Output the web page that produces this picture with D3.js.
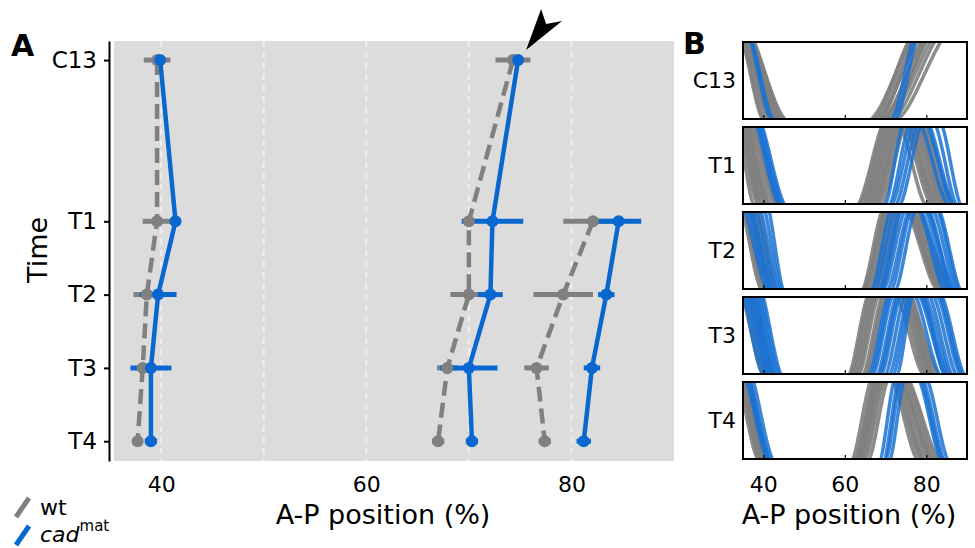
<!doctype html>
<html>
<head>
<meta charset="utf-8">
<style>
  body { margin: 0; background: #fff; }
  text { font-family: "DejaVu Sans", sans-serif; fill: #000; }
</style>
<script src="https://d3js.org/d3.v7.min.js"></script>
</head>
<body>
<svg width="975" height="548"></svg>
<script>
// ---- data ----
var times = ["C13", "T1", "T2", "T3", "T4"];
var timePos = [0, 2.2, 3.2, 4.2, 5.2];

// panel A: boundary positions (% A-P), mean and error
var wtAnt = [39.6, 39.6, 38.6, 38.2, 37.7];
var wtAntErr = [1.3, 1.4, 1.3, 0.6, 0.5];
var cadAnt = [39.9, 41.4, 39.7, 39.0, 39.0];
var cadAntErr = [0.3, 0.4, 1.8, 2.0, 0.6];

var wtMid = [74.3, 70.0, 70.0, 67.9, 67.0];
var wtMidErr = [1.7, 0.6, 1.8, 1.0, 0.6];
var cadMid = [74.8, 72.3, 72.1, 70.0, 70.3];
var cadMidErr = [0.3, 3.0, 1.2, 2.8, 0.6];

var wtPost = [null, 82.1, 79.2, 76.6, 77.4];
var wtPostErr = [null, 2.9, 2.9, 1.2, 0.6];
var cadPost = [null, 84.6, 83.4, 82.0, 81.2];
var cadPostErr = [null, 2.2, 0.8, 0.8, 0.7];

var gridTicks = [40, 50, 60, 70, 80];
var xTicks = [40, 60, 80];

// panel B: single profiles, read as crossing positions
// [left flank leaves top, left flank reaches 0, rises from 0, reaches top, falls from top, back at 0]
var wtProfiles = [
  [[35.2, 41.0, 66.0, 75.5], [35.8, 42.5, 67.5, 77.0], [36.2, 43.5, 65.0, 76.0], [36.8, 44.0, 68.5, 78.5],
   [37.0, 45.0, 69.0, 80.0], [37.5, 46.5, 70.5, 82.0], [35.5, 42.0, 67.0, 77.5], [36.0, 43.0, 71.5, 83.5],
   [37.3, 45.5, 68.0, 79.0], [36.5, 44.5, 66.5, 76.5], [35.0, 40.5, 69.5, 81.0], [37.8, 46.0, 70.0, 79.5]],
  [[34.0, 38.0, 62.5, 69.0, 74.0, 80.5], [34.5, 39.0, 63.5, 70.0, 75.0, 82.0], [35.0, 40.0, 64.0, 70.5, 76.0, 83.0],
   [35.5, 41.0, 65.0, 71.5, 77.0, 84.0], [36.0, 42.0, 65.5, 72.0, 78.0, 85.0], [36.5, 42.5, 66.5, 73.0, 79.0, 86.0],
   [37.0, 43.5, 67.0, 73.5, 80.0, 87.5], [37.5, 44.5, 68.5, 74.5, 79.5, 86.5], [35.2, 40.5, 63.0, 69.5, 75.5, 82.5],
   [36.2, 41.5, 64.5, 71.0, 77.5, 84.5], [38.0, 44.0, 66.0, 72.5, 76.5, 83.5], [34.8, 39.5, 67.5, 74.0, 78.5, 85.5]],
  [[35.0, 40.0, 63.8, 69.0, 75.5, 83.5], [35.5, 40.5, 64.5, 69.5, 76.0, 84.0], [36.0, 41.0, 65.0, 70.0, 76.5, 84.5],
   [36.5, 41.5, 65.5, 70.5, 77.0, 85.0], [37.0, 42.0, 66.0, 71.0, 77.5, 85.5], [37.5, 42.5, 66.5, 71.5, 78.0, 86.0],
   [38.0, 43.0, 67.0, 72.0, 78.5, 86.5], [38.5, 43.5, 67.5, 72.5, 76.5, 84.0], [39.0, 44.0, 68.5, 73.5, 77.0, 85.0],
   [36.2, 41.2, 64.0, 70.0, 78.0, 87.5]],
  [[35.0, 40.5, 60.5, 65.5, 73.0, 80.0], [35.5, 41.0, 61.0, 66.0, 74.0, 80.5], [36.0, 41.5, 62.0, 67.0, 74.5, 81.0],
   [36.5, 42.0, 62.5, 67.5, 75.0, 81.5], [37.0, 42.5, 63.0, 68.0, 75.5, 82.0], [37.5, 43.0, 64.0, 69.0, 76.0, 82.5],
   [38.0, 43.5, 64.5, 69.5, 76.5, 83.0], [36.8, 42.2, 65.0, 70.0, 75.8, 81.5], [35.8, 41.3, 61.5, 66.5, 76.0, 84.0]],
  [[34.0, 39.3, 61.3, 66.2, 72.0, 78.5], [34.5, 39.8, 62.0, 67.0, 72.5, 79.5], [35.0, 40.3, 62.5, 67.5, 73.0, 80.0],
   [35.3, 40.8, 63.0, 68.0, 73.5, 80.5], [35.7, 41.2, 63.5, 68.5, 74.0, 81.5], [36.0, 41.5, 64.0, 69.0, 74.5, 82.0],
   [36.4, 42.0, 64.5, 69.5, 75.0, 83.0], [36.8, 42.0, 65.4, 70.3, 76.0, 84.2], [35.5, 41.0, 63.2, 68.2, 75.5, 83.5],
   [34.8, 40.0, 62.2, 67.2, 74.2, 82.5]]
];
var cadProfiles = [
  [[37.3, 43.0, 72.0, 77.3], [37.0, 42.5, 71.0, 76.5]],
  [[38.5, 44.5, 69.5, 74.0, 79.0, 86.0], [39.0, 45.0, 70.5, 75.5, 80.5, 87.0], [39.5, 45.5, 72.0, 77.5, 82.5, 88.0],
   [39.8, 46.0, 73.0, 78.5, 84.0, 89.0], [38.8, 44.8, 71.0, 76.5, 81.0, 87.5]],
  [[35.6, 41.7, 66.2, 71.0, 78.5, 85.0], [36.5, 42.5, 67.0, 72.0, 79.0, 86.0], [37.5, 43.0, 68.0, 73.0, 80.0, 86.5],
   [38.5, 43.8, 69.0, 74.5, 81.0, 87.0], [39.5, 44.5, 70.0, 75.5, 82.0, 88.0], [40.5, 45.0, 71.0, 76.0, 83.0, 88.5],
   [41.5, 45.4, 72.0, 77.0, 83.4, 89.0], [37.0, 42.8, 68.5, 73.5, 80.5, 87.5]],
  [[35.2, 40.5, 65.5, 70.5, 78.5, 85.5], [36.0, 41.5, 66.5, 71.5, 79.0, 86.0], [37.0, 42.5, 67.5, 72.5, 80.0, 86.5],
   [38.0, 43.0, 68.5, 73.5, 81.0, 87.0], [39.0, 44.0, 69.5, 74.5, 82.0, 88.0], [40.0, 45.0, 70.5, 75.5, 83.0, 89.0],
   [36.5, 42.0, 71.5, 76.0, 83.5, 89.5], [38.5, 43.5, 72.5, 76.5, 84.0, 90.0], [37.5, 42.8, 66.0, 71.0, 77.5, 84.0],
   [39.5, 44.5, 68.0, 73.0, 79.5, 85.0]],
  [[36.0, 41.7, 68.3, 72.0, 78.5, 84.2], [36.8, 42.3, 69.3, 73.0, 79.5, 85.0], [37.6, 43.0, 70.7, 74.4, 80.5, 85.9],
   [36.4, 42.0, 69.8, 73.5, 79.0, 84.6]]
];

var grey = "#808080", blue = "#0868d0";

var svg = d3.select("svg");

// ---------- panel A ----------
var x = d3.scaleLinear().domain([35.4, 90]).range([114, 674]);
var y = d3.scaleLinear().domain([-0.26, 5.47]).range([41, 461]);

svg.append("rect")
   .attr("x", x.range()[0]).attr("y", y.range()[0])
   .attr("width", x.range()[1] - x.range()[0])
   .attr("height", y.range()[1] - y.range()[0])
   .attr("fill", "#dcdcdc");

svg.selectAll(".grid")
   .data(gridTicks)
   .enter().append("line")
   .attr("x1", function(d) { return x(d); })
   .attr("x2", function(d) { return x(d); })
   .attr("y1", y.range()[0]).attr("y2", y.range()[1])
   .attr("stroke", "#efefef")
   .attr("stroke-width", 2)
   .attr("stroke-dasharray", "6,5");

var yAxis = svg.append("g")
   .attr("transform", "translate(109,0)")
   .call(d3.axisLeft(y).tickValues(timePos)
         .tickFormat(function(d, i) { return times[i]; })
         .tickSize(5).tickSizeOuter(0).tickPadding(7));
yAxis.select(".domain").attr("stroke-width", 2);
yAxis.selectAll(".tick line").attr("stroke-width", 2);
yAxis.selectAll("text").attr("font-size", 23).attr("font-family", "DejaVu Sans");

var xAxis = svg.append("g")
   .attr("transform", "translate(0," + y.range()[1] + ")")
   .call(d3.axisBottom(x).tickValues(xTicks).tickSize(0).tickPadding(15));
xAxis.select(".domain").remove();
xAxis.selectAll("text").attr("font-size", 22).attr("font-family", "DejaVu Sans");

svg.append("text")
   .attr("transform", "translate(47,250) rotate(-90)")
   .attr("text-anchor", "middle")
   .attr("font-size", 27)
   .text("Time");

svg.append("text")
   .attr("x", 383).attr("y", 524)
   .attr("text-anchor", "middle")
   .attr("font-size", 27)
   .text("A-P position (%)");

function series(vals, errs) {
  return vals.map(function(v, i) { return { v: v, e: errs[i], t: timePos[i] }; })
             .filter(function(d) { return d.v != null; });
}

var groups = [
  { s: series(wtAnt, wtAntErr), c: grey, dash: true },
  { s: series(wtMid, wtMidErr), c: grey, dash: true },
  { s: series(wtPost, wtPostErr), c: grey, dash: true },
  { s: series(cadAnt, cadAntErr), c: blue, dash: false },
  { s: series(cadMid, cadMidErr), c: blue, dash: false },
  { s: series(cadPost, cadPostErr), c: blue, dash: false }
];

var line = d3.line()
   .x(function(d) { return x(d.v); })
   .y(function(d) { return y(d.t); });

// error bars first, then lines, then dots
groups.forEach(function(g) {
  svg.append("g").selectAll("line")
     .data(g.s)
     .enter().append("line")
     .attr("x1", function(d) { return x(d.v - d.e); })
     .attr("x2", function(d) { return x(d.v + d.e); })
     .attr("y1", function(d) { return y(d.t); })
     .attr("y2", function(d) { return y(d.t); })
     .attr("stroke", g.c)
     .attr("stroke-width", 5);
});
groups.forEach(function(g) {
  svg.append("path")
     .datum(g.s)
     .attr("d", line)
     .attr("fill", "none")
     .attr("stroke", g.c)
     .attr("stroke-width", 4.5)
     .attr("stroke-dasharray", g.dash ? "15,7" : null);
});
groups.forEach(function(g) {
  svg.append("g").selectAll("circle")
     .data(g.s)
     .enter().append("circle")
     .attr("cx", function(d) { return x(d.v); })
     .attr("cy", function(d) { return y(d.t); })
     .attr("r", 6)
     .attr("fill", g.c);
});

// arrowhead pointing at the cad C13 boundary
var ax = x(cadMid[0]) + 8, ay = y(timePos[0]) - 10;
svg.append("path")
   .attr("transform", "translate(" + ax + "," + ay + ")")
   .attr("d", "M0,0 L15,-41 L20,-26 L36,-29 Z")
   .attr("fill", "#000");

// legend
svg.append("line").attr("x1", 16).attr("y1", 517).attr("x2", 29).attr("y2", 498)
   .attr("stroke", grey).attr("stroke-width", 5);
svg.append("line").attr("x1", 16).attr("y1", 545).attr("x2", 29).attr("y2", 526)
   .attr("stroke", blue).attr("stroke-width", 5);
svg.append("text").attr("x", 40).attr("y", 515).attr("font-size", 22).text("wt");
var cadText = svg.append("text").attr("x", 40).attr("y", 542).attr("font-size", 22);
cadText.append("tspan").attr("font-style", "italic").text("cad");
cadText.append("tspan").attr("font-size", 15).attr("dy", -11).text("mat");

// panel labels
svg.append("text").attr("x", 11).attr("y", 56).attr("font-size", 30).attr("font-weight", "bold").text("A");
svg.append("text").attr("x", 683).attr("y", 54).attr("font-size", 30).attr("font-weight", "bold").text("B");

// ---------- panel B ----------
var xb = d3.scaleLinear().domain([35, 90]).range([743, 967]);
var panelTop = [42, 127, 212, 297, 382];
var panelH = 77;

function knots(p) {
  var pts = [[p[0] - 0.35 * (p[1] - p[0]), 1.35], [p[0], 1], [p[1], 0], [p[2], 0], [p[3], 1]];
  if (p.length > 4) {
    pts.push([(p[3] + p[4]) / 2, 1.3], [p[4], 1], [p[5], 0], [p[5] + 5, 0]);
  } else {
    pts.push([p[3] + 0.35 * (p[3] - p[2]), 1.35]);
  }
  return pts;
}

times.forEach(function(t, i) {
  var top = panelTop[i];
  // zero sits a little below the frame, so the flat tails are hidden
  var yb = d3.scaleLinear().domain([0, 1]).range([top + panelH + 3, top]);
  var g = svg.append("g");

  g.append("clipPath").attr("id", "clip" + i)
   .append("rect").attr("x", xb.range()[0]).attr("y", top)
   .attr("width", xb.range()[1] - xb.range()[0]).attr("height", panelH);

  var prof = d3.line()
     .x(function(d) { return xb(d[0]); })
     .y(function(d) { return yb(d[1]); })
     .curve(d3.curveMonotoneX);

  var cg = g.append("g").attr("clip-path", "url(#clip" + i + ")");
  cg.selectAll(".wt").data(wtProfiles[i]).enter().append("path")
    .attr("d", function(p) { return prof(knots(p)); })
    .attr("fill", "none").attr("stroke", grey).attr("stroke-width", 3.5).attr("stroke-opacity", 0.9);
  cg.selectAll(".cad").data(cadProfiles[i]).enter().append("path")
    .attr("d", function(p) { return prof(knots(p)); })
    .attr("fill", "none").attr("stroke", "#1a72d4").attr("stroke-width", 3.5).attr("stroke-opacity", 0.85);

  var ax = g.append("g")
     .attr("transform", "translate(0," + (top + panelH) + ")")
     .call(d3.axisBottom(xb).tickValues(xTicks).tickSize(-4).tickSizeOuter(0).tickPadding(17));
  ax.select(".domain").remove();
  ax.selectAll(".tick line").attr("stroke-width", 1.2);
  if (i < times.length - 1) ax.selectAll("text").remove();
  else ax.selectAll("text").attr("font-size", 22).attr("font-family", "DejaVu Sans");

  g.append("rect")
   .attr("x", xb.range()[0]).attr("y", top)
   .attr("width", xb.range()[1] - xb.range()[0]).attr("height", panelH)
   .attr("fill", "none").attr("stroke", "#000").attr("stroke-width", 2);

  g.append("text")
   .attr("x", 736).attr("y", top + panelH / 2)
   .attr("dy", "0.36em")
   .attr("text-anchor", "end")
   .attr("font-size", 22)
   .text(t);
});

svg.append("text")
   .attr("x", 849).attr("y", 524)
   .attr("text-anchor", "middle")
   .attr("font-size", 27)
   .text("A-P position (%)");
</script>
</body>
</html>
